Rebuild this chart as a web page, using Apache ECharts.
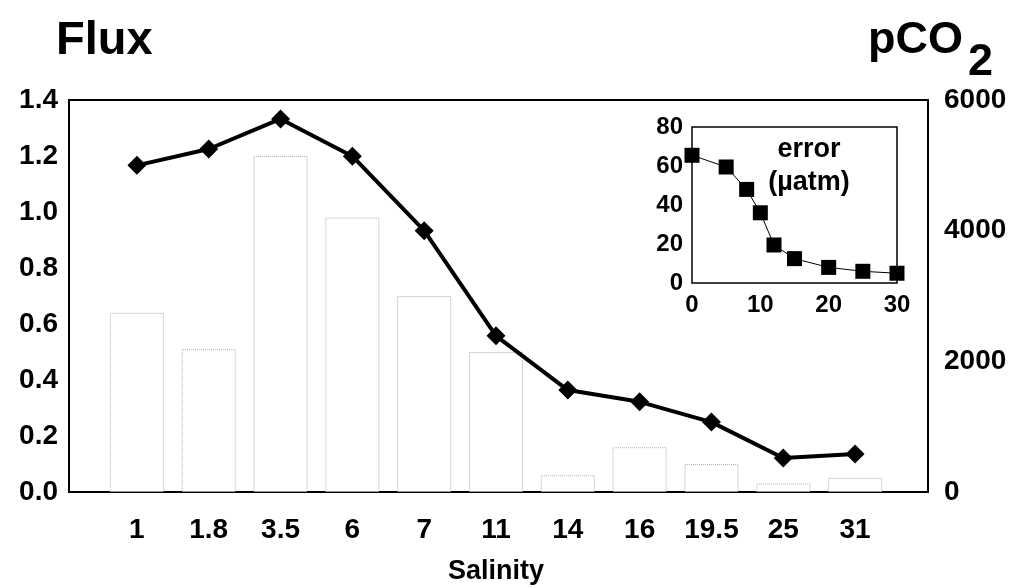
<!DOCTYPE html>
<html>
<head>
<meta charset="utf-8">
<script src="https://cdn.jsdelivr.net/npm/echarts@6/dist/echarts.min.js"></script>
<style>
  html, body { margin: 0; padding: 0; background: #fff; }
  #chart { width: 1014px; height: 587px; }
</style>
</head>
<body>
<div id="chart"></div>
<script>
var salinity = ["1", "1.8", "3.5", "6", "7", "11", "14", "16", "19.5", "25", "31"];
var flux = [0.64, 0.51, 1.2, 0.98, 0.7, 0.5, 0.06, 0.16, 0.1, 0.03, 0.05];
var pco2 = [5000, 5250, 5710, 5140, 4000, 2390, 1560, 1380, 1070, 520, 580];
var errX = [0, 5, 8, 10, 12, 15, 20, 25, 30];
var errY = [65.5, 59.5, 48, 36, 19.5, 12.5, 8, 6, 5];

var FONT = "Liberation Sans, Arial, sans-serif";
var lbl = { fontFamily: FONT, fontWeight: "bold", fontSize: 28, color: "#000" };

var chart = echarts.init(document.getElementById("chart"), null, { renderer: "canvas" });

var errData = errX.map(function (x, i) { return [x, errY[i]]; });
var plain = function (v) { return String(v); };

var option = {
  animation: false,
  backgroundColor: "#fff",
  grid: [
    // outer frame
    { left: 69, top: 100, width: 859, height: 392, outerBoundsMode: "none", show: true, borderColor: "#000", borderWidth: 2, backgroundColor: "transparent" },
    // data area
    { left: 101, top: 100, width: 790, height: 392, outerBoundsMode: "none" },
    // inset
    { left: 692, top: 127, width: 205, height: 156, outerBoundsMode: "none", show: true, borderColor: "#000", borderWidth: 1.5, backgroundColor: "#fff", z: 5 }
  ],
  xAxis: [
    { type: "value", gridIndex: 0, show: false, min: 0, max: 1 },
    {
      type: "category", gridIndex: 1, data: salinity,
      axisLine: { show: false }, axisTick: { show: false },
      axisLabel: Object.assign({ margin: 24 }, lbl),
      name: "Salinity", nameLocation: "middle", nameGap: 66,
      nameTextStyle: Object.assign({}, lbl, { fontSize: 27 })
    },
    {
      type: "value", gridIndex: 2, min: 0, max: 30, interval: 10,
      axisLine: { show: false }, axisTick: { show: false }, splitLine: { show: false },
      axisLabel: Object.assign({}, lbl, { fontSize: 24, margin: 10, formatter: plain }), z: 6
    }
  ],
  yAxis: [
    {
      type: "value", gridIndex: 0, position: "left", min: 0, max: 1.4, interval: 0.2,
      axisLine: { show: false }, axisTick: { show: false }, splitLine: { show: false },
      axisLabel: Object.assign({ margin: 11, formatter: function (v) { return v.toFixed(1); } }, lbl)
    },
    {
      type: "value", gridIndex: 0, position: "right", min: 0, max: 6000, interval: 2000,
      axisLine: { show: false }, axisTick: { show: false }, splitLine: { show: false },
      axisLabel: Object.assign({ margin: 16, formatter: plain }, lbl)
    },
    { type: "value", gridIndex: 1, min: 0, max: 1.4, show: false },
    { type: "value", gridIndex: 1, min: 0, max: 6000, show: false },
    {
      type: "value", gridIndex: 2, min: 0, max: 80, interval: 20,
      axisLine: { show: false }, axisTick: { show: false }, splitLine: { show: false },
      axisLabel: Object.assign({}, lbl, { fontSize: 24, margin: 9, formatter: plain }), z: 6
    }
  ],
  series: [
    {
      type: "bar", xAxisIndex: 1, yAxisIndex: 2, data: flux, barWidth: 54,
      itemStyle: { color: "#fff", borderColor: "#b0b0b0", borderWidth: 1, borderType: "dotted" }
    },
    {
      type: "line", xAxisIndex: 1, yAxisIndex: 3, data: pco2,
      symbol: "diamond", symbolSize: 19,
      lineStyle: { color: "#000", width: 4 },
      itemStyle: { color: "#000" }
    },
    {
      type: "line", xAxisIndex: 2, yAxisIndex: 4, data: errData,
      symbol: "rect", symbolSize: 15, z: 7,
      lineStyle: { color: "#000", width: 1 },
      itemStyle: { color: "#000" }
    }
  ],
  graphic: [
    { type: "text", left: 56, top: 18, style: { text: "Flux", font: "bold 47px " + FONT, fill: "#000" } },
    { type: "text", left: 868, top: 18, style: { text: "pCO", font: "bold 45px " + FONT, fill: "#000" } },
    { type: "text", left: 968, top: 40, style: { text: "2", font: "bold 45px " + FONT, fill: "#000" } },
    { type: "text", x: 809, y: 150, z: 10, style: { text: "error", font: "bold 27px " + FONT, fill: "#000", align: "center", verticalAlign: "middle" } },
    { type: "text", x: 809, y: 183, z: 10, style: { text: "(\u00b5atm)", font: "bold 27px " + FONT, fill: "#000", align: "center", verticalAlign: "middle" } }
  ]
};

chart.setOption(option);
</script>
</body>
</html>
